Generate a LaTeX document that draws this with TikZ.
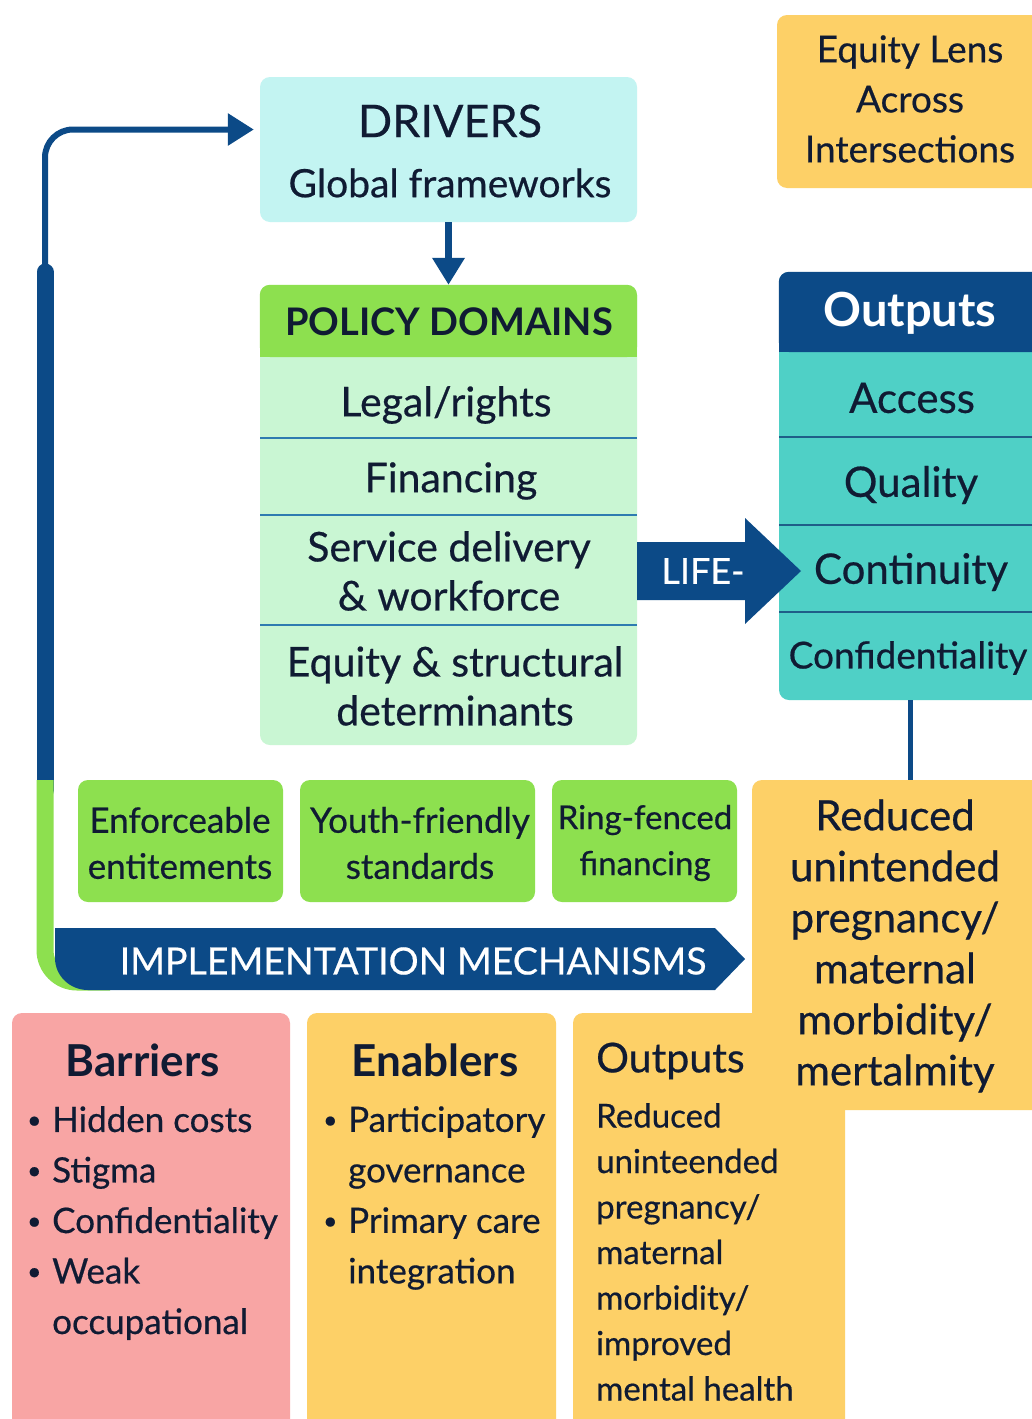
\documentclass[tikz,border=0pt]{standalone}
\usepackage{fontspec}
\usepackage{graphicx}
\setmainfont{Lato}[UprightFeatures={FakeBold=0.5}]
\usetikzlibrary{arrows.meta,calc}
\definecolor{navyblue}{HTML}{0C4A87}
\definecolor{limegreen}{HTML}{8DE04F}
\definecolor{palegreen}{HTML}{C9F6D3}
\definecolor{palecyan}{HTML}{C3F4F2}
\definecolor{tealbox}{HTML}{4FD0C6}
\definecolor{sunyellow}{HTML}{FDD067}
\definecolor{rosepink}{HTML}{F8A5A4}
\definecolor{inkblue}{HTML}{101B33}
\definecolor{rowline}{HTML}{2E7BB0}
\definecolor{tealline}{HTML}{1F5E88}
\newcommand\setsize[2]{\fontsize{#1}{#2}\selectfont}
% list bullets with a hanging indent
\newcommand\dotitem{\makebox[25pt][l]{\raisebox{0.1em}{\scalebox{0.7}{\textbullet}}}}
\newcommand\noitem{\hspace*{25pt}}

\tikzset{
  panel/.style={rounded corners=10pt, inner sep=0pt},
  txt/.style={inner sep=0pt, text=inkblue, align=center},
  link/.style={draw=navyblue, line width=7pt, -{Triangle[length=27pt,width=31pt]}},
}

\begin{document}
\begin{tikzpicture}[x=1pt,y=-1pt]
  \fill[white] (0,0) rectangle (1032,1419);
  \clip (0,0) rectangle (1032,1419);

  % top: drivers and the equity lens
  \node[panel, fill=palecyan, minimum width=377pt, minimum height=145pt] (drivers) at (448.5,149.5) {};
  \node[txt, font=\setsize{45}{50}] (drvtitle) at (450,121) {DRIVERS};
  \node[txt, font=\setsize{39}{44}] (drvsub) at (450,183) {Global frameworks};

  \node[panel, fill=sunyellow, minimum width=270pt, minimum height=173pt] (equity) at (912,101.5) {};
  \node[txt, font=\setsize{37}{50}] (equitytxt) at (910,99) {Equity Lens\\Across\\Intersections};

  % policy domains panel
  \node[panel, fill=palegreen, minimum width=377pt, minimum height=460pt] (policy) at (448.5,515) {};
  \fill[limegreen, rounded corners=10pt] (policy.north west) rectangle (637,357);
  \fill[limegreen] (260,330) rectangle (637,357);
  \foreach \y in {438,515,625} \draw[rowline, line width=2pt] (260,\y) -- (637,\y);
  \node[txt, font=\bfseries\setsize{38}{42}] (pdhead) at (449,322) {POLICY DOMAINS};
  \node[txt, font=\setsize{41}{49}] (legal) at (446,405) {Legal/rights};
  \node[txt, font=\setsize{41}{49}] (finance) at (451,481) {Financing};
  \node[txt, font=\setsize{41}{49}] (service) at (449,571) {Service delivery\\\& workforce};
  \node[txt, font=\setsize{41}{49}] (equitydet) at (455,686) {Equity \& structural\\determinants};

  \draw[link] (drivers.south) -- (policy.north);

  % outputs panel
  \node[panel, fill=tealbox, minimum width=290pt, minimum height=428pt] (outputs) at (924,486) {};
  \fill[navyblue, rounded corners=10pt] (outputs.north west) rectangle (1069,352);
  \fill[navyblue] (779,320) rectangle (1069,352);
  \foreach \y in {437,525,612} \draw[tealline, line width=2pt] (779,\y) -- (1069,\y);
  \node[txt, text=white, font=\bfseries\setsize{47}{50}] (outhead) at (910,313) {Outputs};
  \node[txt, font=\setsize{42}{48}] (access) at (912,398) {Access};
  \node[txt, font=\setsize{42}{48}] (quality) at (911,485) {Quality};
  \node[txt, font=\setsize{42}{48}] (continuity) at (911,572) {Continuity};
  \node[txt, font=\setsize{37}{48}] (confid) at (908,658) {Confidentiality};

  % life- arrow into the outputs
  \coordinate (lifetip) at (801,571);
  \fill[navyblue] ($(policy.east)+(0,27)$) -- (745,542) -- (745,518) -- (lifetip)
    -- (745,624) -- (745,600) -- ($(policy.east)+(0,85)$) -- cycle;
  \node[txt, text=white, font=\setsize{36}{40}] (life) at (703,571) {LIFE-};

  % feedback loop back to the drivers
  \coordinate (loopfoot) at (45,790);
  \draw[navyblue, line width=6pt, rounded corners=28pt, shorten >=6pt,
    -{Triangle[length=26pt,width=31pt]}] (loopfoot) |- ([yshift=20pt]drivers.west);
  \draw[navyblue, line width=17pt, line cap=round] (45,272) -- (loopfoot);
  \draw[limegreen, line width=17pt, rounded corners=32pt] (45,780) -- (45,982) -- (110,982);

  % implementation mechanisms
  \node[panel, fill=limegreen, minimum width=205pt, minimum height=122pt] (enforce) at (180.5,841) {};
  \node[panel, fill=limegreen, minimum width=235pt, minimum height=122pt] (youth) at (417.5,841) {};
  \node[panel, fill=limegreen, minimum width=185pt, minimum height=122pt] (ring) at (644.5,841) {};
  \node[txt, font=\setsize{35}{46}] (enforcetxt) at (180,843) {Enforceable\\entitements};
  \node[txt, font=\setsize{35}{46}] (youthtxt) at (420,843) {Youth-friendly\\standards};
  \node[txt, font=\setsize{33}{46}] (ringtxt) at (645,843) {Ring-fenced\\financing};

  \fill[navyblue] (55,928) -- (715,928) -- (745,959) -- (715,990) -- (88,990)
    to[out=180,in=270] (55,958) -- cycle;
  \node[txt, text=white, font=\setsize{37.5}{40}] (impl) at (413,961) {IMPLEMENTATION MECHANISMS};

  % outcomes
  \node[panel, fill=sunyellow, minimum width=308pt, minimum height=330pt] (reduced) at (906,945) {};
  \node[panel, fill=sunyellow, minimum width=272pt, minimum height=427pt] (outcomes) at (709,1226.5) {};
  \draw[navyblue, line width=5pt] ($(outputs.south)+(-14,0)$) -- ($(outputs.south)+(-14,80)$);
  \node[txt, font=\setsize{42}{51}] (reducedtxt) at (895,946)
    {Reduced\\unintended\\pregnancy/\\maternal\\morbidity/\\mertalmity};

  % barriers, enablers and the lower outputs list
  \node[panel, fill=rosepink, minimum width=278pt, minimum height=427pt] (barriers) at (151,1226.5) {};
  \node[panel, fill=sunyellow, minimum width=249pt, minimum height=427pt] (enablers) at (431.5,1226.5) {};

  \node[txt, font=\bfseries\setsize{44}{48}] (bartitle) at (143,1060) {Barriers};
  \node[txt, align=left, anchor=north west, font=\setsize{35}{50.5}] (barlist) at (27,1106)
    {\dotitem Hidden costs\\\dotitem Stigma\\\dotitem Confidentiality\\\dotitem Weak\\
     \noitem occupational};

  \node[txt, font=\bfseries\setsize{44}{48}] (enabtitle) at (435,1060) {Enablers};
  \node[txt, align=left, anchor=north west, font=\setsize{35}{50.5}] (enablist) at (323,1106)
    {\dotitem Participatory\\\noitem governance\\\dotitem Primary care\\
     \noitem integration};

  \node[txt, anchor=west, font=\setsize{41}{45}] (outtitle) at (596,1061) {Outputs};
  \node[txt, align=left, anchor=north west, font=\setsize{33}{45.5}] (outlist) at (596,1103)
    {Reduced\\uninteended\\pregnancy/\\maternal\\morbidity/\\improved\\mental health};
\end{tikzpicture}
\end{document}
